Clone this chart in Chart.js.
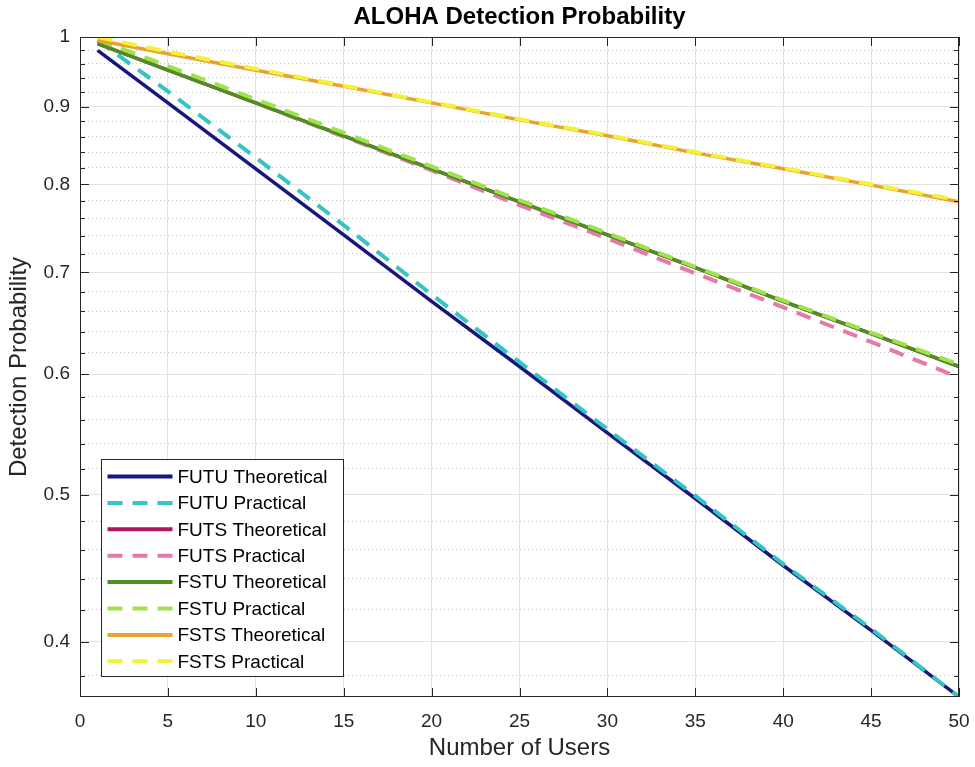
<!DOCTYPE html>
<html>
<head>
<meta charset="utf-8">
<script src="https://cdn.jsdelivr.net/npm/chart.js@4.4.1/dist/chart.umd.min.js"></script>
<style>
  html, body { margin: 0; padding: 0; background: #ffffff; }
  #wrap { width: 975px; height: 767px; position: relative; }
</style>
</head>
<body>
<div id="wrap"><canvas id="c" width="975" height="767"></canvas></div>
<script>
// ---------------- data ----------------
const users = [1, 5, 10, 15, 20, 25, 30, 35, 40, 45, 50];

const futuTheo = [0.980, 0.905, 0.819, 0.741, 0.670, 0.607, 0.549, 0.497, 0.449, 0.407, 0.368];
const futuPrac = [0.995, 0.921, 0.833, 0.752, 0.677, 0.611, 0.552, 0.499, 0.450, 0.408, 0.368];
const futsTheo = [0.990, 0.951, 0.905, 0.861, 0.819, 0.779, 0.741, 0.705, 0.670, 0.638, 0.607];
const futsPrac = [0.994, 0.952, 0.905, 0.860, 0.817, 0.775, 0.737, 0.699, 0.664, 0.630, 0.597];
const fstuTheo = [0.990, 0.951, 0.905, 0.861, 0.819, 0.779, 0.741, 0.705, 0.670, 0.638, 0.607];
const fstuPrac = [0.996, 0.957, 0.910, 0.865, 0.822, 0.781, 0.743, 0.706, 0.671, 0.639, 0.609];
const fstsTheo = [0.995, 0.975, 0.951, 0.928, 0.905, 0.882, 0.861, 0.839, 0.819, 0.799, 0.779];
const fstsPrac = [1.000, 0.978, 0.953, 0.929, 0.906, 0.883, 0.862, 0.840, 0.820, 0.800, 0.781];

const seriesNames = [
  'FUTU Theoretical', 'FUTU Practical',
  'FUTS Theoretical', 'FUTS Practical',
  'FSTU Theoretical', 'FSTU Practical',
  'FSTS Theoretical', 'FSTS Practical'
];

const xTickLabels = [0, 5, 10, 15, 20, 25, 30, 35, 40, 45, 50];
const yTickLabels = [0.4, 0.5, 0.6, 0.7, 0.8, 0.9, 1];

const titleText = 'ALOHA Detection Probability';
const xTitle = 'Number of Users';
const yTitle = 'Detection Probability';

// ---------------- styles ----------------
const FONT = "'Liberation Sans', Arial, Helvetica, sans-serif";
const AX = '#262626';
const seriesValues = [futuTheo, futuPrac, futsTheo, futsPrac, fstuTheo, fstuPrac, fstsTheo, fstsPrac];
const seriesStyles = [
  { color: '#16167e', dash: [],       width: 3.5 },
  { color: '#35c3c3', dash: [15, 10], width: 4 },
  { color: '#b3145c', dash: [],       width: 3.5 },
  { color: '#e57aaa', dash: [15, 10], width: 4 },
  { color: '#4f8f22', dash: [],       width: 3.5 },
  { color: '#9fe24e', dash: [15, 10], width: 4 },
  { color: '#eaa22e', dash: [],       width: 3.5 },
  { color: '#f2f23c', dash: [15, 10], width: 4 }
];

const isMajorY = v => yTickLabels.some(t => Math.abs(t - v) < 1e-6);
// minor grid positions every 0.02 (axis decoration)
const yGridValues = [];
for (let k = 19; k <= 50; k++) yGridValues.push(+(k * 0.02).toFixed(2));

const datasets = seriesNames.map((name, i) => ({
  label: name,
  data: users.map((u, j) => ({ x: u, y: seriesValues[i][j] })),
  borderColor: seriesStyles[i].color,
  backgroundColor: seriesStyles[i].color,
  borderWidth: seriesStyles[i].width,
  borderDash: seriesStyles[i].dash,
  borderCapStyle: 'butt',
  pointRadius: 0,
  pointHoverRadius: 0,
  fill: false,
  tension: 0,
  order: seriesNames.length - 1 - i
}));

const matlabAxes = {
  id: 'matlabAxes',
  afterDatasetsDraw(chart) {
    const { ctx, chartArea: a, scales } = chart;
    const xs = scales.x, ys = scales.y;
    ctx.save();
    ctx.strokeStyle = AX;
    ctx.lineWidth = 1;
    ctx.setLineDash([]);
    ctx.beginPath();
    xs.ticks.forEach(t => {
      const px = Math.round(xs.getPixelForValue(t.value)) + 0.5;
      ctx.moveTo(px, a.bottom); ctx.lineTo(px, a.bottom - 9);
      ctx.moveTo(px, a.top); ctx.lineTo(px, a.top + 9);
    });
    ys.ticks.forEach(t => {
      const py = Math.round(ys.getPixelForValue(t.value)) + 0.5;
      const len = isMajorY(t.value) ? 9 : 5;
      ctx.moveTo(a.left, py); ctx.lineTo(a.left + len, py);
      ctx.moveTo(a.right, py); ctx.lineTo(a.right - len, py);
    });
    ctx.stroke();
    ctx.strokeRect(Math.round(a.left) + 0.5, Math.round(a.top) + 0.5,
                   Math.round(a.width) - 1, Math.round(a.height) - 1);

    // legend inside the axes, bottom-left
    const bx = Math.round(a.left + 21) + 0.5;
    const bw = 242, bh = 217;
    const by = Math.round(a.bottom - 21 - bh) + 0.5;
    ctx.fillStyle = '#ffffff';
    ctx.fillRect(bx, by, bw, bh);
    ctx.strokeStyle = AX;
    ctx.lineWidth = 1;
    ctx.strokeRect(bx, by, bw, bh);
    ctx.font = '19px ' + FONT;
    ctx.textBaseline = 'middle';
    ctx.textAlign = 'left';
    chart.data.datasets.forEach((ds, i) => {
      const cy = by + 17 + i * 26.4;
      ctx.save();
      ctx.strokeStyle = ds.borderColor;
      ctx.lineWidth = 4;
      ctx.lineCap = 'butt';
      ctx.setLineDash(ds.borderDash || []);
      ctx.beginPath();
      ctx.moveTo(bx + 6, cy);
      ctx.lineTo(bx + 71, cy);
      ctx.stroke();
      ctx.restore();
      ctx.fillStyle = '#000000';
      ctx.fillText(ds.label, bx + 76, cy + 1);
    });
    ctx.restore();
  }
};

new Chart(document.getElementById('c'), {
  type: 'line',
  data: { datasets },
  plugins: [matlabAxes],
  options: {
    responsive: false,
    animation: false,
    devicePixelRatio: 1,
    layout: { padding: { left: 0, right: 16, top: 0, bottom: 0 } },
    plugins: {
      legend: { display: false },
      tooltip: { enabled: false },
      title: {
        display: true,
        text: titleText,
        color: '#000000',
        fullSize: false,
        font: { family: FONT, size: 24, weight: 'bold' },
        padding: { top: 3, bottom: 5.2 }
      }
    },
    scales: {
      x: {
        type: 'linear',
        min: 0,
        max: 50,
        bounds: 'data',
        afterBuildTicks: s => { s.ticks = xTickLabels.map(v => ({ value: v })); },
        afterFit: s => { s.height = 70; s.paddingLeft = 0; s.paddingRight = 0; },
        ticks: {
          autoSkip: false,
          maxRotation: 0,
          color: AX,
          padding: 13,
          font: { family: FONT, size: 19 },
          callback: v => String(v)
        },
        grid: { color: '#e2e2e2', lineWidth: 1, drawTicks: false },
        border: { display: false },
        title: {
          display: true,
          text: xTitle,
          color: AX,
          font: { family: FONT, size: 24 },
          padding: { top: 0, bottom: 4 }
        }
      },
      y: {
        type: 'logarithmic',
        min: 0.3679,
        max: 1,
        bounds: 'data',
        afterBuildTicks: s => { s.ticks = yGridValues.map(v => ({ value: v })); },
        afterFit: s => { s.width = 80; s.paddingTop = 0; s.paddingBottom = 0; },
        ticks: {
          autoSkip: false,
          color: AX,
          padding: 10,
          font: { family: FONT, size: 19 },
          callback: v => isMajorY(v) ? (Math.abs(v - 1) < 1e-6 ? '1' : Number(v).toFixed(1)) : ''
        },
        grid: {
          drawTicks: false,
          lineWidth: 1,
          color: c => (c.tick && !isMajorY(c.tick.value)) ? '#c2c2c2' : '#e2e2e2'
        },
        border: {
          display: false,
          dash: c => (c.tick && !isMajorY(c.tick.value)) ? [1, 3] : []
        },
        title: {
          display: true,
          text: yTitle,
          color: AX,
          font: { family: FONT, size: 24 },
          padding: { top: 5, bottom: 0 }
        }
      }
    }
  }
});
</script>
</body>
</html>
